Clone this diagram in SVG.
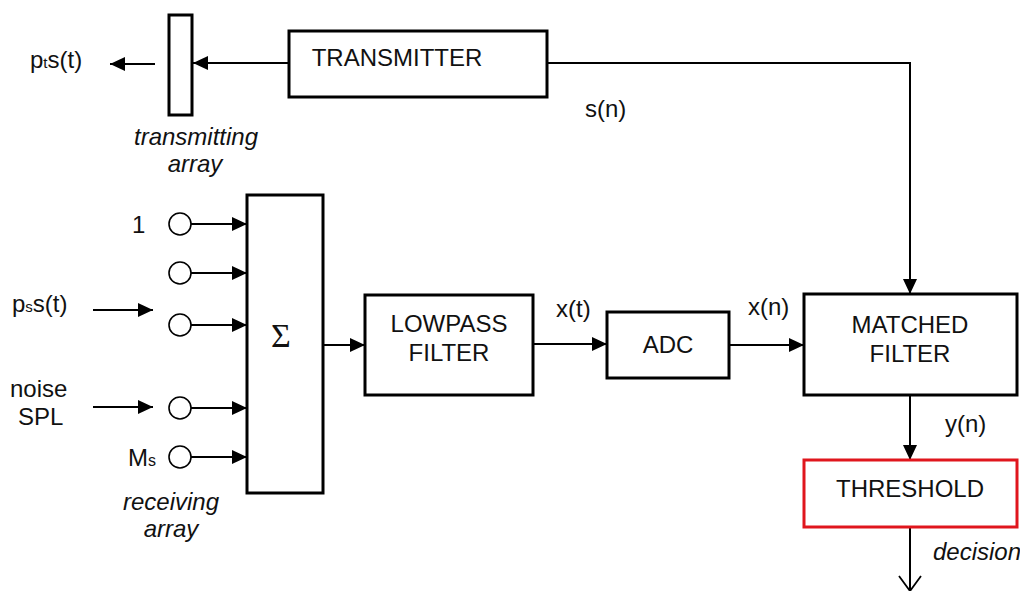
<svg xmlns="http://www.w3.org/2000/svg" width="1020" height="591" viewBox="0 0 1020 591">
<style>
.box{fill:#fff;stroke:#000;stroke-width:3}
.red{fill:#fff;stroke:#e0161d;stroke-width:3}
.ln{fill:none;stroke:#000;stroke-width:2}
.arr{marker-end:url(#ah)}
.t{font-family:"Liberation Sans",Arial,sans-serif;font-size:24px;fill:#111}
.b{font-family:"Liberation Sans",Arial,sans-serif;font-size:24px;fill:#111;text-anchor:middle}
.i{font-family:"Liberation Sans",Arial,sans-serif;font-size:24px;font-style:italic;fill:#111;text-anchor:middle}
.c{fill:#fff;stroke:#000;stroke-width:1.6}
</style>
<defs>
<marker id="ah" markerUnits="userSpaceOnUse" markerWidth="16" markerHeight="14" refX="15" refY="7" orient="auto">
<path d="M0,0 L15,7 L0,14 Z" fill="#000"/>
</marker>
</defs>
<g id="connectors">
<line class="ln arr" x1="289" y1="63" x2="193" y2="63"/>
<line class="ln arr" x1="155" y1="64" x2="110" y2="64"/>
<polyline class="ln arr" points="547,63 910,63 910,294"/>
<line class="ln arr" x1="191" y1="224" x2="247" y2="224"/>
<line class="ln arr" x1="191" y1="273" x2="247" y2="273"/>
<line class="ln arr" x1="191" y1="325" x2="247" y2="325"/>
<line class="ln arr" x1="191" y1="408" x2="247" y2="408"/>
<line class="ln arr" x1="191" y1="457" x2="247" y2="457"/>
<line class="ln arr" x1="93" y1="310" x2="153" y2="310"/>
<line class="ln arr" x1="93" y1="407" x2="153" y2="407"/>
<line class="ln arr" x1="323" y1="345" x2="365" y2="345"/>
<line class="ln arr" x1="533" y1="344" x2="607" y2="344"/>
<line class="ln arr" x1="729" y1="345" x2="804" y2="345"/>
<line class="ln arr" x1="910" y1="395" x2="910" y2="460"/>
<line class="ln" x1="910" y1="527" x2="910" y2="591"/>
<polyline fill="none" stroke="#000" stroke-width="1.8" points="899,576 910,591 921,576"/>
</g>
<g id="tx-array">
<rect class="box" x="169" y="15" width="23" height="100"/>
<text class="i" x="196" y="145">transmitting</text>
<text class="i" x="195" y="172">array</text>
</g>
<g id="pts-label"><text class="t" x="30" y="68">p<tspan font-size="15">t</tspan>s(t)</text></g>
<g id="transmitter">
<rect class="box" x="289" y="31" width="258" height="66"/>
<text class="b" x="397" y="66">TRANSMITTER</text>
</g>
<g id="sn-label"><text class="t" x="585" y="117">s(n)</text></g>
<g id="rx-array">
<circle class="c" cx="180" cy="224" r="11"/>
<circle class="c" cx="180" cy="273" r="11"/>
<circle class="c" cx="180" cy="325" r="11"/>
<circle class="c" cx="180" cy="408" r="11"/>
<circle class="c" cx="180" cy="457" r="11"/>
<text class="t" x="132" y="233">1</text>
<text class="t" x="128" y="466" font-size="25">M<tspan font-size="16">s</tspan></text>
<text class="i" x="171" y="510">receiving</text>
<text class="i" x="171" y="537">array</text>
</g>
<g id="pss-label"><text class="t" x="12" y="312">p<tspan font-size="15">s</tspan>s(t)</text></g>
<g id="noise-label">
<text class="t" x="10" y="397">noise</text>
<text class="t" x="18" y="425">SPL</text>
</g>
<g id="sum">
<rect class="box" x="247" y="195" width="76" height="298"/>
<text x="281" y="347" font-family="'Liberation Serif','Times New Roman',serif" font-size="34" text-anchor="middle" fill="#111">Σ</text>
</g>
<g id="lowpass">
<rect class="box" x="365" y="295" width="168" height="100"/>
<text class="b" x="449" y="332">LOWPASS</text>
<text class="b" x="449" y="361">FILTER</text>
</g>
<g id="xt-label"><text class="t" x="556" y="317">x(t)</text></g>
<g id="adc">
<rect class="box" x="607" y="312" width="122" height="66"/>
<text class="b" x="668" y="353">ADC</text>
</g>
<g id="xn-label"><text class="t" x="748" y="315">x(n)</text></g>
<g id="matched">
<rect class="box" x="804" y="294" width="213" height="101"/>
<text class="b" x="910" y="333">MATCHED</text>
<text class="b" x="910" y="362">FILTER</text>
</g>
<g id="yn-label"><text class="t" x="945" y="432">y(n)</text></g>
<g id="threshold">
<rect class="red" x="804" y="460" width="213" height="67"/>
<text class="b" x="910" y="497">THRESHOLD</text>
</g>
<g id="decision-label"><text class="i" x="977" y="560">decision</text></g>
</svg>
